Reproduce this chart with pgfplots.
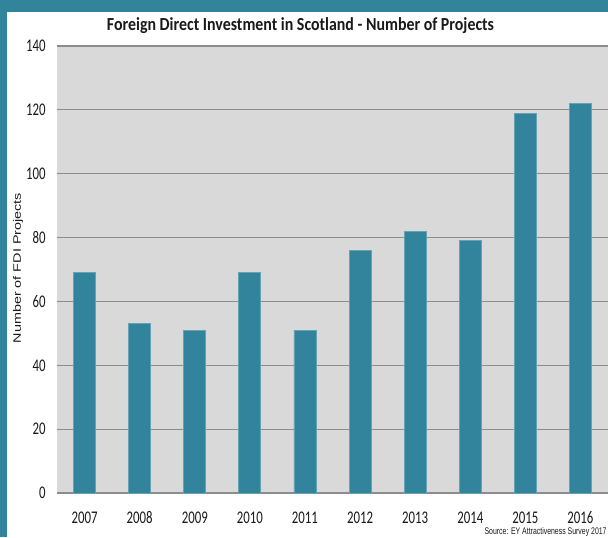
\documentclass[border=0pt]{standalone}
\usepackage{pgfplots}
\pgfplotsset{compat=1.18}
\usepackage{fontspec}
\setmainfont{Carlito}
\newfontfamily\arialf{Liberation Sans}
\definecolor{frame}{HTML}{31849B}
\definecolor{barc}{HTML}{31849B}
\definecolor{plotbg}{HTML}{D9D9D9}
\definecolor{gridc}{HTML}{8C8C8C}
\definecolor{txt}{HTML}{1A1A1A}
\newcommand{\sq}[1]{\scalebox{0.72}[1]{#1}}
\begin{document}
\begin{tikzpicture}
\fill[frame] (0,0) rectangle (304pt,268.5pt);
\fill[white] (3.5pt,0) rectangle (304pt,262.5pt);
\begin{axis}[
  at={(28.5pt,22pt)}, anchor=south west,
  width=275.5pt, height=223.5pt, scale only axis,
  xmin=-0.5, xmax=9.5, ymin=0, ymax=140,
  xtick={0,...,9},
  xticklabels={\sq{2007},\sq{2008},\sq{2009},\sq{2010},\sq{2011},\sq{2012},\sq{2013},\sq{2014},\sq{2015},\sq{2016}},
  ytick={0,20,40,60,80,100,120,140},
  yticklabels={\sq{0},\sq{20},\sq{40},\sq{60},\sq{80},\sq{100},\sq{120},\sq{140}},
  major tick length=0pt,
  ymajorgrids,
  grid style={draw=gridc, line width=0.6pt},
  axis background/.style={fill=plotbg},
  axis line style={draw=none},
  xticklabel style={font=\fontsize{8.9pt}{10pt}\selectfont, text=txt, anchor=base, inner sep=0pt, yshift=-15pt},
  yticklabel style={font=\fontsize{8.9pt}{10pt}\selectfont, text=txt, anchor=east, inner sep=0pt, xshift=-5.5pt},
  clip=false,
]
\addplot[ybar, bar width=11pt, fill=barc, draw=barc!75!white, line width=0.4pt]
  coordinates {(0,69) (1,53) (2,51) (3,69) (4,51) (5,76) (6,82) (7,79) (8,119) (9,122)};
\end{axis}
\node[anchor=base, inner sep=0pt, text=txt] at (150.25pt,253.5pt)
  {\resizebox{193.5pt}{\height}{\fontsize{9.2pt}{10pt}\selectfont\bfseries Foreign Direct Investment in Scotland - Number of Projects}};
\node[inner sep=0pt, text=txt] at (9pt,134.5pt)
  {\scalebox{0.75}[1]{\rotatebox{90}{\arialf\fontsize{7.2pt}{9pt}\selectfont Number of FDI Projects}}};
\node[anchor=base east, inner sep=0pt, text=txt] at (303.5pt,1.5pt)
  {\resizebox{61pt}{\height}{\arialf\fontsize{4.8pt}{6pt}\selectfont Source: EY Attractiveness Survey 2017}};
\pgfresetboundingbox
\useasboundingbox (0,0) rectangle (304pt,268.5pt);
\end{tikzpicture}
\end{document}
